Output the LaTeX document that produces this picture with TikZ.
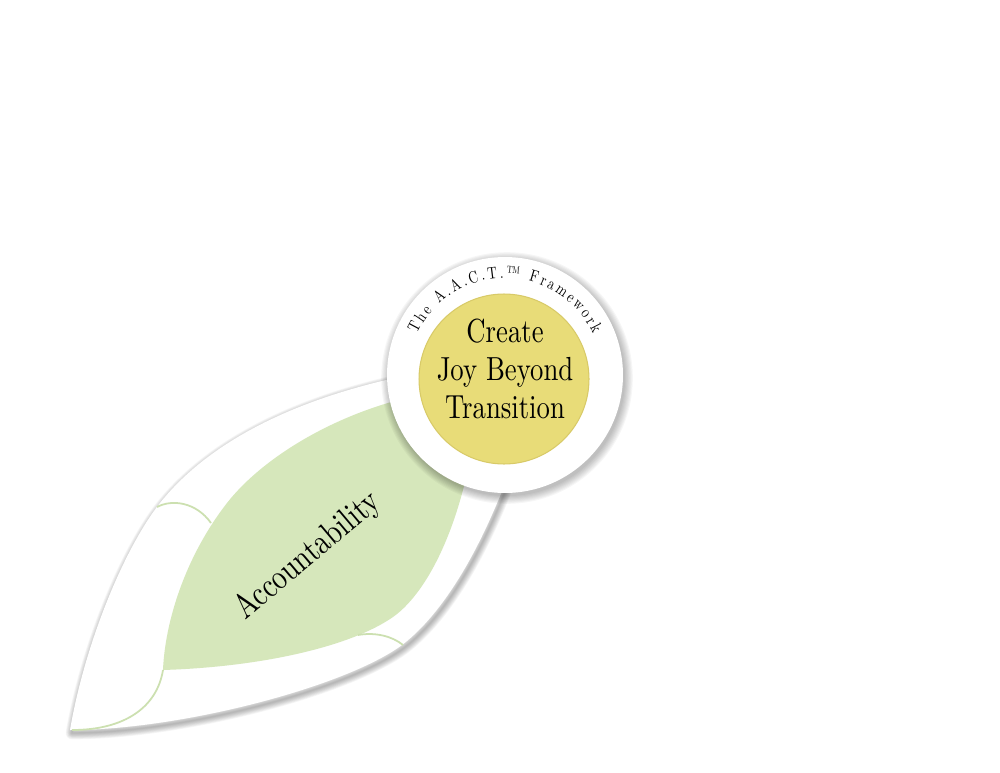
\documentclass[tikz,border=0pt]{standalone}
\usepackage{fontspec}
\newfontfamily\aactfont{lmroman10-regular}[Extension=.otf,FakeStretch=0.8]
\usepackage{tikz}
\usetikzlibrary{decorations.text}

\definecolor{leafgreen}{RGB}{214,231,187}
\definecolor{veingreen}{RGB}{204,224,176}
\definecolor{coreyellow}{RGB}{232,220,120}
\definecolor{coretrim}{RGB}{216,202,104}

% outlines of the leaf and of its green blade
\newcommand\leafoutline{(70,42) .. controls (85,130) and (125,225) .. (160,269)
  .. controls (215,338) and (330,400) .. (545,415)
  .. controls (500,240) and (445,160) .. (402,127)
  .. controls (345,85) and (180,42) .. (70,42) -- cycle}
\newcommand\bladeoutline{(163,102) .. controls (165,150) and (185,215) .. (227,269)
  .. controls (270,324) and (370,380) .. (480,385)
  .. controls (470,260) and (430,181) .. (393,155)
  .. controls (350,125) and (260,105) .. (163,102) -- cycle}

\begin{document}
\begin{tikzpicture}[x=0.02cm,y=0.02cm,line join=round,
    ring node/.style={circle,fill=white,minimum size=4.72cm,inner sep=0pt},
    core node/.style={circle,fill=coreyellow,draw=coretrim,line width=0.6pt,minimum size=3.4cm,inner sep=0pt},
    core text/.style={align=center,font=\aactfont\fontsize{19}{21.5}\selectfont},
    leaf label/.style={font=\aactfont\fontsize{20}{22}\selectfont,rotate=40},
    vein/.style={draw=veingreen,line width=1pt}]

\useasboundingbox (0,0) rectangle (1000,772);
\coordinate (c) at (505,397);

% leaf with its shadow
\foreach \w in {1,...,9}
  \draw[black,opacity=0.035,line width=\w*0.8pt,shift={(2,-3)}] \leafoutline;
\fill[white] \leafoutline;
\fill[leafgreen] \bladeoutline;

\draw[vein] (157,265) .. controls (172,273) and (196,270) .. (211,249);
\draw[vein] (358,137) .. controls (375,140) and (392,136) .. (403,127);
\draw[vein] (163,102) .. controls (157,65) and (125,42) .. (72,42);

\node[leaf label] (3) at (308,216) {Accountability};

% the A.A.C.T. disc
\foreach \w in {1,...,8}
  \fill[black,opacity=0.035] ([shift={(2,-3)}]c) circle[radius={117+\w*1.1}];
\node[ring node] (1) at (c) {};
\node[core node] (2) at ([shift={(-1,-4)}]1.center) {};
\node[core text] (4) at ([shift={(1,10)}]2.center) {Create\\Joy Beyond\\Transition};

\path[decorate,decoration={text along path,text align=fit to path,
    text={|\aactfont\fontsize{9.5}{11}\selectfont|The A.A.C.T.{\texttrademark} Framework}}]
  ([shift={(155:97)}]1.center) arc[start angle=155,end angle=25,radius=97];
\end{tikzpicture}
\end{document}
